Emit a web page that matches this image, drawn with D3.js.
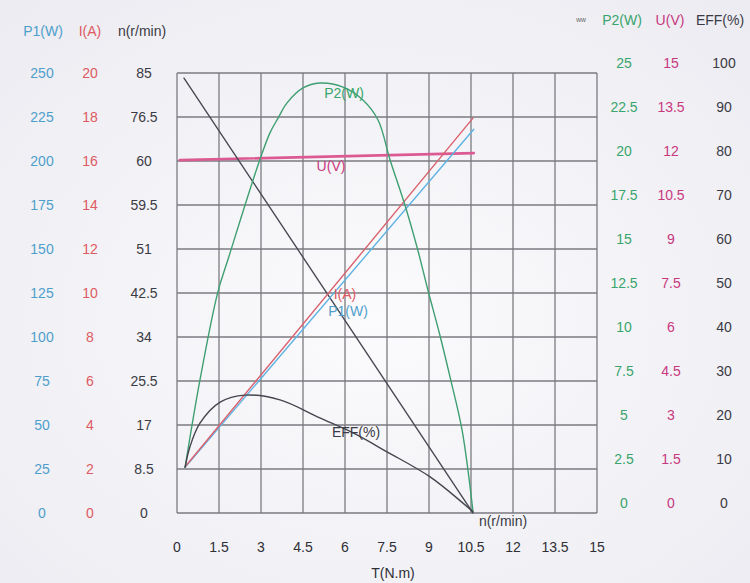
<!DOCTYPE html>
<html><head><meta charset="utf-8">
<script src="https://cdn.jsdelivr.net/npm/d3@7"></script>
<style>
html,body{margin:0;padding:0;background:#f3f3f7}
svg{display:block}
text{font-family:"Liberation Sans",Arial,Helvetica,sans-serif}
</style>
</head><body>
<svg id="chart" width="750" height="583"></svg>
<script>
// ---- tick values / labels ----
const torqueTicks = [0, 1.5, 3, 4.5, 6, 7.5, 9, 10.5, 12, 13.5, 15];
const p1Ticks  = [0, 25, 50, 75, 100, 125, 150, 175, 200, 225, 250];
const iTicks   = [0, 2, 4, 6, 8, 10, 12, 14, 16, 18, 20];
const nTicks   = [0, 8.5, 17, 25.5, 34, 42.5, 51, 59.5, 68, 76.5, 85];
const nTickLabels = ["0", "8.5", "17", "25.5", "34", "42.5", "51", "59.5", "60", "76.5", "85"];
const p2Ticks  = [0, 2.5, 5, 7.5, 10, 12.5, 15, 17.5, 20, 22.5, 25];
const uTicks   = [0, 1.5, 3, 4.5, 6, 7.5, 9, 10.5, 12, 13.5, 15];
const effTicks = [0, 10, 20, 30, 40, 50, 60, 70, 80, 90, 100];

// ---- series (T in N.m, value in series units) ----
const nSeries   = [[0.25, 84], [10.57, 0]];
const iSeries   = [[0.29, 2.1], [10.57, 17.95]];
const p1Series  = [[0.29, 26], [10.6, 218]];
const uSeries   = [[0.1, 12.03], [10.6, 12.27]];
const p2Series  = [[0.29, 2.6], [0.82, 7.56], [1.46, 12.56], [1.82, 14.4], [2.93, 19.94],
                   [3.32, 21.6], [3.61, 22.44], [3.93, 23.3], [4.5, 24.15], [5.1, 24.43],
                   [5.93, 24.2], [6.64, 23.47], [7.18, 22.33], [7.61, 20.06], [8.14, 17.5],
                   [8.6, 14.94], [8.96, 12.67], [9.39, 10.1], [9.75, 7.73], [10.18, 4.72], [10.57, 0.1]];
const effSeries = [[0.29, 10.4], [0.46, 15], [0.82, 20.4], [1.54, 25.2], [2.43, 26.8], [3.68, 25.7],
                   [5.1, 21.6], [6.29, 18.2], [7.5, 13.9], [9.04, 8.2], [10.57, 0.3]];

// ---- colours ----
const C = {p1:"#4f9fcc", i:"#de5a62", n:"#3b3b45", p2:"#39a56c", u:"#c9387f", eff:"#3b3b45",
           p1Line:"#5fb3e3", iLine:"#d9616f", uLine:"#dc5a92", grid:"#7a7a80"};

const svg = d3.select("#chart");
const defs = svg.append("defs");
const rg = defs.append("radialGradient").attr("id","bg").attr("cx","50%").attr("cy","55%").attr("r","75%");
rg.append("stop").attr("offset","0%").attr("stop-color","#fbfbfd");
rg.append("stop").attr("offset","100%").attr("stop-color","#ebebf1");
svg.append("rect").attr("width",750).attr("height",583).attr("fill","url(#bg)");

const x = d3.scaleLinear().domain([0, 15]).range([177, 597]);
const plotTop = 73, plotBottom = 513;
const yP1  = d3.scaleLinear().domain([0, 250]).range([plotBottom, plotTop]);
const yI   = d3.scaleLinear().domain([0, 20]).range([plotBottom, plotTop]);
const yN   = d3.scaleLinear().domain([0, 85]).range([plotBottom, plotTop]);
const yP2  = d3.scaleLinear().domain([0, 25]).range([plotBottom, plotTop]);
const yU   = d3.scaleLinear().domain([0, 15]).range([plotBottom, plotTop]);
const yEff = d3.scaleLinear().domain([0, 100]).range([plotBottom, plotTop]);

// ---- grid ----
const g = svg.append("g");
g.selectAll("line.v").data(torqueTicks).join("line").attr("class","v")
  .attr("x1", d => x(d)).attr("x2", d => x(d)).attr("y1", plotTop).attr("y2", plotBottom)
  .attr("stroke", C.grid).attr("stroke-width", 1.3);
g.selectAll("line.h").data(p1Ticks).join("line").attr("class","h")
  .attr("x1", x(0)).attr("x2", x(15)).attr("y1", d => yP1(d)).attr("y2", d => yP1(d))
  .attr("stroke", C.grid).attr("stroke-width", 1.3);

// ---- axis label columns ----
function column(ticks, scale, cx, color, labels, dyShift) {
  svg.append("g").selectAll("text").data(ticks).join("text")
    .attr("x", cx).attr("y", d => scale(d) + (dyShift || 0))
    .attr("dy", "0.35em").attr("text-anchor", "middle")
    .attr("font-size", 14).attr("fill", color)
    .text((d, i) => labels ? labels[i] : d);
}
column(p1Ticks, yP1, 42, C.p1);
column(iTicks, yI, 90, C.i);
column(nTicks, yN, 144, C.n, nTickLabels);
column(p2Ticks, yP2, 624, C.p2, null, -10);
column(uTicks, yU, 671, C.u, null, -10);
column(effTicks, yEff, 724, C.eff, null, -10);

function header(txt, cx, cy, color) {
  svg.append("text").attr("x", cx).attr("y", cy).attr("dy", "0.35em")
    .attr("text-anchor", "middle").attr("font-size", 14).attr("fill", color).text(txt);
}
header("P1(W)", 43, 31, C.p1);
header("I(A)", 90, 31, C.i);
header("n(r/min)", 142, 31, C.n);
header("P2(W)", 622, 20, C.p2);
header("U(V)", 670, 20, C.u);
header("EFF(%)", 720, 20, C.eff);
svg.append("text").attr("x", 581).attr("y", 20).attr("dy","0.35em").attr("text-anchor","middle")
  .attr("font-size", 10).attr("fill", "#666").text("ʷʷ");

// x tick labels
svg.append("g").selectAll("text").data(torqueTicks).join("text")
  .attr("x", d => x(d)).attr("y", 547).attr("dy", "0.35em").attr("text-anchor", "middle")
  .attr("font-size", 14).attr("fill", "#2f2f36").text(d => d);
svg.append("text").attr("x", 393).attr("y", 573).attr("dy", "0.35em").attr("text-anchor", "middle")
  .attr("font-size", 14).attr("fill", "#2f2f36").text("T(N.m)");

// ---- curves ----
function draw(data, ys, color, w, curve) {
  const line = d3.line().x(d => x(d[0])).y(d => ys(d[1])).curve(curve || d3.curveLinear);
  svg.append("path").datum(data).attr("d", line).attr("fill", "none")
    .attr("stroke", color).attr("stroke-width", w).attr("stroke-linecap", "round");
}
draw(uSeries, yU, C.uLine, 2.6);
draw(nSeries, yN, "#4a4a55", 1.4);
draw(p1Series, yP1, C.p1Line, 1.4);
draw(iSeries, yI, C.iLine, 1.4);
draw(p2Series, yP2, "#3f9f72", 1.4, d3.curveCatmullRom);
draw(effSeries, yEff, "#45454f", 1.4, d3.curveCatmullRom);

// ---- in-plot labels ----
function lab(txt, cx, cy, color) {
  svg.append("text").attr("x", cx).attr("y", cy).attr("dy", "0.35em")
    .attr("text-anchor", "middle").attr("font-size", 14).attr("fill", color).text(txt);
}
lab("P2(W)", 344, 93, C.p2);
lab("U(V)", 331, 166, C.u);
lab("I(A)", 345, 294, C.i);
lab("P1(W)", 348, 311, C.p1);
lab("EFF(%)", 356, 432, C.eff);
lab("n(r/min)", 503, 521, C.n);
</script>
</body></html>
